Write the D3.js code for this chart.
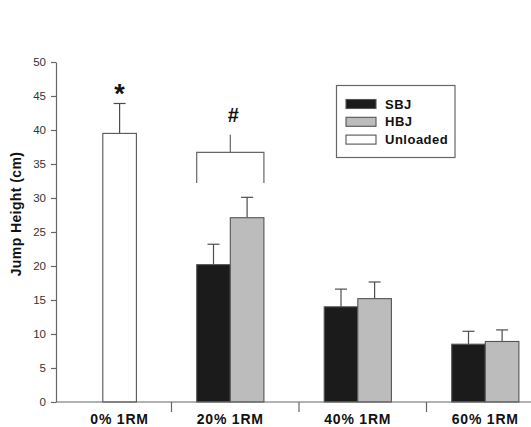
<!DOCTYPE html>
<html>
<head>
<meta charset="utf-8">
<script src="https://cdn.jsdelivr.net/npm/d3@7/dist/d3.min.js"></script>
<style>
  html, body { margin: 0; padding: 0; background: #fff; }
  svg { display: block; font-family: "Liberation Sans", Arial, Helvetica, sans-serif; }
</style>
</head>
<body>
<svg id="chart" width="531" height="427"></svg>
<script>
// Jump height by load condition (mean and SD, cm)
const categories = ["0% 1RM", "20% 1RM", "40% 1RM", "60% 1RM"];
const sbjMeans = [null, 20.2, 14.0, 8.5];
const sbjSD = [null, 3.0, 2.6, 1.9];
const hbjMeans = [null, 27.1, 15.2, 8.9];
const hbjSD = [null, 3.0, 2.45, 1.7];
const unloadedMeans = [39.5, null, null, null];
const unloadedSD = [4.4, null, null, null];
const yTicks = [0, 5, 10, 15, 20, 25, 30, 35, 40, 45, 50];
const legendLabels = ["SBJ", "HBJ", "Unloaded"];
const fills = { SBJ: "#1b1b1b", HBJ: "#bcbcbc", Unloaded: "#ffffff" };

const svg = d3.select("#chart");

const y = d3.scaleLinear().domain([0, 50]).range([402, 62]);
const x = d3.scaleBand().domain(categories).range([44, 554]);
// two bar slots per group; the unloaded bar sits in the second slot
const slot = d3.scaleBand().domain(["SBJ", "HBJ"]).range([25.2, 92.4]);
const slotOf = { SBJ: "SBJ", HBJ: "HBJ", Unloaded: "HBJ" };

const bars = [];
categories.forEach((c, i) => {
  if (sbjMeans[i] != null) bars.push({ cat: c, series: "SBJ", mean: sbjMeans[i], sd: sbjSD[i] });
  if (hbjMeans[i] != null) bars.push({ cat: c, series: "HBJ", mean: hbjMeans[i], sd: hbjSD[i] });
  if (unloadedMeans[i] != null) bars.push({ cat: c, series: "Unloaded", mean: unloadedMeans[i], sd: unloadedSD[i] });
});
const barX = d => x(d.cat) + slot(slotOf[d.series]);
const bw = slot.bandwidth();

// error bars (upper whisker only)
const eb = svg.append("g").attr("stroke", "#4d4d4d").attr("stroke-width", 1.2);
bars.forEach(d => {
  const cx = barX(d) + bw / 2;
  eb.append("line").attr("x1", cx).attr("x2", cx).attr("y1", y(d.mean)).attr("y2", y(d.mean + d.sd));
  eb.append("line").attr("x1", cx - 6).attr("x2", cx + 6).attr("y1", y(d.mean + d.sd)).attr("y2", y(d.mean + d.sd));
});

// bars
svg.append("g").selectAll("rect").data(bars).join("rect")
  .attr("x", barX)
  .attr("y", d => y(d.mean))
  .attr("width", bw)
  .attr("height", d => y(0) - y(d.mean))
  .attr("fill", d => fills[d.series])
  .attr("stroke", "#555")
  .attr("stroke-width", 1.1);

// y axis
const yAxis = svg.append("g").attr("transform", "translate(56,0)")
  .call(d3.axisLeft(y).tickValues(yTicks).tickSize(5).tickSizeOuter(0).tickPadding(5));
yAxis.select(".domain").attr("stroke", "#666").attr("stroke-width", 1.2);
yAxis.selectAll(".tick line").attr("stroke", "#666").attr("stroke-width", 1.2);
yAxis.selectAll(".tick text").attr("fill", "#333").style("font-size", "11.5px")
  .style("font-family", "'Liberation Sans', Arial, sans-serif");

// x axis: baseline, separators between groups, and group labels
const xa = svg.append("g");
xa.append("line").attr("x1", 56).attr("x2", 531).attr("y1", y(0)).attr("y2", y(0))
  .attr("stroke", "#666").attr("stroke-width", 1.2);
xa.selectAll("line.sep").data(categories.slice(1)).join("line").attr("class", "sep")
  .attr("x1", d => x(d)).attr("x2", d => x(d))
  .attr("y1", y(0)).attr("y2", y(0) + 10)
  .attr("stroke", "#666").attr("stroke-width", 1.2);
xa.selectAll("text").data(categories).join("text")
  .attr("x", c => {
    const xs = bars.filter(b => b.cat === c).map(b => barX(b));
    return (d3.min(xs) + d3.max(xs) + bw) / 2;
  })
  .attr("y", 423.5)
  .attr("text-anchor", "middle")
  .attr("fill", "#111")
  .style("font-size", "14px").style("font-weight", "bold").style("letter-spacing", "0.8px")
  .text(d => d);

// y axis title
svg.append("text")
  .attr("transform", "translate(21,214) rotate(-90)")
  .attr("text-anchor", "middle")
  .attr("fill", "#111")
  .style("font-size", "14px").style("font-weight", "bold").style("letter-spacing", "0.4px")
  .text("Jump Height (cm)");

// significance marks
const unl = bars.find(b => b.series === "Unloaded");
svg.append("text")
  .attr("x", barX(unl) + bw / 2).attr("y", 103)
  .attr("text-anchor", "middle").attr("fill", "#111")
  .style("font-size", "27px").style("font-weight", "bold")
  .text("*");

const g20 = bars.filter(b => b.cat === "20% 1RM");
const bx0 = d3.min(g20, barX), bx1 = d3.max(g20, barX) + bw, bxm = (bx0 + bx1) / 2;
const br = svg.append("g").attr("stroke", "#666").attr("stroke-width", 1.2).attr("fill", "none");
br.append("path").attr("d", `M${bx0},${y(32.2)}V${y(36.7)}H${bx1}V${y(32.2)}`);
br.append("line").attr("x1", bxm).attr("x2", bxm).attr("y1", y(36.7)).attr("y2", y(39.3));
svg.append("text")
  .attr("x", bxm + 3).attr("y", 122)
  .attr("text-anchor", "middle").attr("fill", "#111")
  .style("font-size", "20px").style("font-weight", "bold")
  .text("#");

// legend
const lg = svg.append("g");
lg.append("rect").attr("x", 336.5).attr("y", 85.5).attr("width", 118.5).attr("height", 72)
  .attr("fill", "#fff").attr("stroke", "#666").attr("stroke-width", 1.2);
legendLabels.forEach((s, i) => {
  lg.append("rect").attr("x", 346).attr("y", 99.5 + i * 17.8).attr("width", 30).attr("height", 9)
    .attr("fill", fills[s]).attr("stroke", "#555").attr("stroke-width", 1.1);
  lg.append("text").attr("x", 385).attr("y", 108.5 + i * 17.8)
    .attr("fill", "#111").style("font-size", "13px").style("font-weight", "bold")
    .style("letter-spacing", "0.5px")
    .text(s);
});
</script>
</body>
</html>
